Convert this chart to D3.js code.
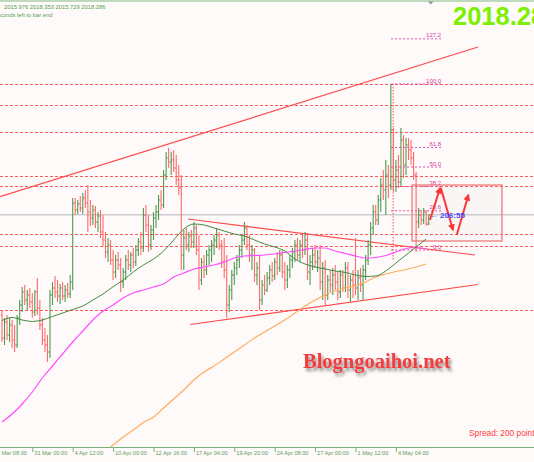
<!DOCTYPE html>
<html><head><meta charset="utf-8">
<script src="https://cdn.jsdelivr.net/npm/d3@7"></script>
<style>html,body{margin:0;padding:0;background:#fffafa;overflow:hidden}svg{display:block}</style>
</head><body><svg id="c" width="534" height="462"></svg>
<script>
// ---- data (prices) ----
const barOpen = [1993.25,1987.5,1991.5,1988.25,1990.75,1987,1985.75,1992.5,1995.75,1999,
1997,1998.25,1996.5,1994,1999,1995,1990.75,1987,1985.75,1984,
1998.25,2000,1999,1998,2000,1998,1999.5,1998.5,2001.5,2021.25,
2019.5,2021,2020,2022.5,2021.25,2019,2017.5,2019.5,2016.5,2018,
2014,2012,2009,2010.75,2007,2004,2007,2005.75,2001.5,2004,
2007,2005.75,2008.25,2006.5,2009.5,2011.5,2010,2018.25,2015.75,2010.75,
2014.5,2017.5,2019,2022,2020.75,2028.25,2032.5,2031.5,2032,2030,
2027,2025,2008.25,2012.5,2010.75,2013,2011.5,2015,2009.5,2002,
2006.5,2004.5,2008.25,2009.5,2010.75,2012,2013.25,2010.75,2006.5,2004.5,
1995.75,1999.5,2003.25,2005,2007,2009.5,2012,2015,2010.75,2008.25,
2009.5,2003.25,2005,1997,2000.75,1999.5,2002.5,2004.5,2003,2006.5,
2005,2008.25,2004,2002,2004.5,2007,2009,2010.75,2008.25,2010.75,
2009.5,2012,2004,2006.5,2008.25,2006.5,2007.5,2001.5,2005,1998.25,
2002,2000.75,2003.25,2001.5,1999,2003.25,2000,2005,1999.5,2002,
2000.75,2000,2002.5,2000.75,2004.5,2007,2010.75,2015,2019,2017,
2022,2025.75,2024.5,2028.25,2025.75,2039.5,2027,2029.5,2026.5,2037,
2030.75,2035.75,2034.5,2032.5,2028.25,2016.5,2018.25,2017,2019,2015.976];
const barHigh = [1994.5,1992.5,1993.25,1992.5,1992,1990.75,1993.25,1997,2000.25,2000.75,
1999.5,2000,1998.75,1999.5,2002.5,1997,1992.5,1990,1988.25,1999.5,
2001.5,2003,2002,2001,2001.5,2000.75,2001.25,2003.25,2022.5,2022.5,
2022,2023,2023.75,2024.5,2025.75,2022,2020.75,2020.5,2019,2019.5,
2018.25,2014,2012.5,2012,2009.5,2008.25,2009,2007.5,2005,2008.25,
2009.5,2009,2010,2010.75,2012.5,2014,2020,2020.75,2018.25,2015.75,
2019,2020.75,2023.25,2024.5,2029.5,2034,2035,2034,2034.5,2033.25,
2030.75,2028.25,2014.5,2015,2014,2014.5,2016.5,2015.75,2013.25,2007.5,
2008.25,2009.5,2010.75,2012,2013.25,2015,2014,2012,2012.5,2008.25,
2000.75,2004.5,2006.5,2008.25,2010.75,2013.25,2016.5,2015.75,2013.25,2010.75,
2010,2006.5,2008.25,2002,2003.25,2004,2005.75,2006.5,2007.5,2009,
2009.5,2009.5,2006.5,2005.75,2008.25,2010,2012,2012.5,2012,2013.25,
2014,2013.75,2008.25,2010,2010.75,2009.5,2010.75,2006.5,2007,2003.25,
2004.5,2005,2005.75,2004,2004.5,2004.5,2006.5,2006.5,2003.25,2004.5,
2012.5,2004.5,2005,2005.75,2008.25,2012,2016.5,2020.75,2020.75,2023.25,
2027.5,2029.5,2032,2030.75,2051,2040,2032,2033.25,2040,2038.25,
2037.5,2037.5,2037,2034,2029,2020,2019.5,2020,2019.5,2018.353];
const barLow = [1986.5,1985.75,1987,1986.5,1985,1984,1985,1990.75,1994,1995.75,
1994.5,1995,1992.5,1993,1993.25,1989.5,1985.75,1984,1981.5,1982.5,
1995.75,1997.5,1996.5,1996,1997,1996.5,1997.5,1997.5,1999.5,2018.25,
2018.5,2019,2018.5,2020,2014,2015.5,2015.75,2015,2014,2012.5,
2010.5,2007.5,2006.5,2005.75,2002,2002.5,2004.5,1999,2000,2002,
2004.5,2004,2005,2005.5,2008,2008.25,2009,2014,2009,2009.5,
2012,2015,2017,2019.5,2020,2027,2030,2028.25,2029,2025.75,
2023.25,2004.5,2004.5,2009.5,2009,2010,2010,2008.25,1999.5,2000.75,
2002.5,2003.25,2005.75,2006.5,2008.25,2010,2009.5,2005,2002.5,1992.5,
1994,1997,2000.75,2003.25,2005,2007.5,2010.75,2009.5,2006.5,2004.5,
2001.5,2000.75,1994.5,1995.75,1998.25,1999,2000.75,2001.5,2002,2003.25,
2004,2002.5,1999.5,2000,2002.5,2005,2006.5,2007,2006.5,2007.5,
2008.25,2002,2000.75,2004.5,2005,2004,1999.5,1997,1995.75,1997,
1999,1998.25,1999.5,1997,1997.5,1999,1999,1997.5,1996.5,1997.5,
1998.25,1997,1999,1997,2002,2005.75,2008.25,2013.25,2015.75,2015.75,
2019,2022,2018.25,2022.5,2024.5,2024,2024,2025,2025.5,2027.5,
2028.25,2032,2030.75,2027,2009,2015,2015.75,2016,2015.5,2015.729];
const barClose = [1987.5,1991.5,1988.25,1990.75,1987,1985.75,1992.5,1995.75,1999,1997,
1998.25,1996.5,1994,1999,1995,1990.75,1987,1985.75,1984,1998.25,
2000,1999,1998,2000,1998,1999.5,1998.5,2001.5,2021.25,2019.5,
2021,2020,2022.5,2021.25,2019,2017.5,2019.5,2016.5,2018,2014,
2012,2009,2010.75,2007,2004,2007,2005.75,2001.5,2004,2007,
2005.75,2008.25,2006.5,2009.5,2011.5,2010,2018.25,2015.75,2010.75,2014.5,
2017.5,2019,2022,2020.75,2028.25,2032.5,2031.5,2032,2030,2027,
2025,2008.25,2012.5,2010.75,2013,2011.5,2015,2009.5,2002,2006.5,
2004.5,2008.25,2009.5,2010.75,2012,2013.25,2010.75,2006.5,2004.5,1995.75,
1999.5,2003.25,2005,2007,2009.5,2012,2015,2010.75,2008.25,2009.5,
2003.25,2005,1997,2000.75,1999.5,2002.5,2004.5,2003,2006.5,2005,
2008.25,2004,2002,2004.5,2007,2009,2010.75,2008.25,2010.75,2009.5,
2012,2004,2006.5,2008.25,2006.5,2007.5,2001.5,2005,1998.25,2002,
2000.75,2003.25,2001.5,1999,2003.25,2000,2005,1999.5,2002,2000.75,
2000,2002.5,2000.75,2004.5,2007,2010.75,2015,2019,2017,2022,
2025.75,2024.5,2028.25,2025.75,2039.5,2027,2029.5,2026.5,2037,2030.75,
2035.75,2034.5,2032.5,2028.25,2016.5,2018.25,2017,2019,2016,2018.286];

const maIdx = [0,4,8,12,16,20,24,28,32,36,40,44,48,52,56,60,64,68,72,76,80,84,88,92,96,100,104,108,112,116,120,124,128,132,136,140,144,148,152,156,160,164,168];
const maGreen = [1991.88,1992.63,1992,1991.63,1992,1992.88,1993.75,1994.63,1995.5,1997,1998.5,2000.33,2002,2004,2005.75,2007.25,2009.25,2012,2014.75,2016,2015.75,2015,2014.25,2013.5,2013,2012,2011,2010.25,2009.25,2007.25,2006,2005.25,2004.75,2004.25,2003.88,2003.25,2002.88,2003,2004.25,2006.25,2008.25,2010.25,2012.25];
const maMagenta = [1966.5,1968.5,1971,1974,1977.5,1980.5,1983.5,1986.5,1989.25,1992,1994.25,1995.75,1997.5,1998.75,1999.5,2000.25,2001,2002.75,2003.75,2004.75,2005.25,2005.75,2006.5,2007.5,2008,2008.13,2008.25,2008.5,2008.88,2009.25,2009.63,2010,2010,2009.25,2008.63,2008,2007.5,2007.63,2008.13,2009,2009.88,2010.13,2009.75];
const orangeIdx = [43,48,52,56,60,64,68,72,76,80,84,88,92,96,100,104,108,112,116,120,124,128,132,136,140,144,148,152,156,160,164,168];
const maOrange = [1960.25,1962.75,1964.5,1966.38,1967.75,1970,1972.25,1974.5,1977,1979,1980.5,1982.25,1984,1985.75,1987.5,1989,1990.5,1992,1993.75,1995.5,1997,1998.25,1999.25,2000,2000.63,2001.5,2002.75,2003.5,2004.13,2004.63,2005.25,2006];

const levelPrices = [2051,2045.75,2039,2028,2025.5,2013.5,2010.5,1994.5];
const fibLevels = [0,23.6,38.2,50,61.8,100,127.2];
const fibLowHigh = [2009.5,2051];
const fibSpan = [154.1,173.9];
const trendLines = [ // [i1,p1,i2,p2]
  [-0.8,2022.83,188.5,2060.25],
  [73.7,2017.25,187.3,2008.25],
  [74.5,1990.88,188.5,2000.88]
];
const boxSpan = [162.4,198,2011.75,2025.75];
const arrows = [[169.5,2017,173.5,2025],[173.8,2025,178.6,2014.5],[180.1,2013.25,184.7,2023.25]];
const fibDiag = [154.9,2051,154.9,2007];
const tickIdx = [-4,12,28,44,60,76,92,108,124,140,156];
const tickLabels = ["28 Mar 08:00","31 Mar 00:00","4 Apr 12:00","10 Apr 00:00","12 Apr 16:00","17 Apr 04:00","19 Apr 20:00","24 Apr 08:00","27 Apr 00:00","1 May 12:00","4 May 04:00"];

// ---- drawing ----
const W=534,H=462,plotTop=2,plotBot=447;
const svg=d3.select('#c');
const x=d3.scaleLinear().domain([0,169]).range([2,2+169*2.525]);
const y=d3.scaleLinear().domain([1960.25,2071.5]).range([plotBot,plotTop]);
const FONT="'Liberation Sans',Arial,sans-serif";

const defs=svg.append('defs');
defs.append('clipPath').attr('id','clip').append('rect').attr('x',0).attr('y',plotTop).attr('width',W).attr('height',plotBot-plotTop);
defs.append('marker').attr('id','ah').attr('viewBox','0 0 10 10').attr('refX',8).attr('refY',5)
  .attr('markerWidth',7).attr('markerHeight',7).attr('markerUnits','userSpaceOnUse').attr('orient','auto')
  .append('path').attr('d','M0,0L10,5L0,10z').attr('fill','#ff3535');
const f=defs.append('filter').attr('id','sh').attr('x','-10%').attr('y','-30%').attr('width','130%').attr('height','180%');
f.append('feGaussianBlur').attr('in','SourceAlpha').attr('stdDeviation',1.4).attr('result','b');
f.append('feOffset').attr('in','b').attr('dx',2).attr('dy',2.5).attr('result','o');
f.append('feComponentTransfer').attr('in','o').attr('result','o2').append('feFuncA').attr('type','linear').attr('slope',0.45);
const fm=f.append('feMerge'); fm.append('feMergeNode').attr('in','o2'); fm.append('feMergeNode').attr('in','SourceGraphic');

svg.append('rect').attr('width',W).attr('height',H).attr('fill','#fffafa');
const g=svg.append('g').attr('clip-path','url(#clip)');

// horizontal dashed levels
g.selectAll('.lvl').data(levelPrices).join('line')
  .attr('x1',0).attr('x2',W).attr('y1',d=>y(d)+0.5).attr('y2',d=>y(d)+0.5)
  .attr('stroke','#ff5a5a').attr('stroke-width',1).attr('stroke-dasharray','3,2');

// bid line
const last=barClose[barClose.length-1];
g.append('line').attr('x1',0).attr('x2',W).attr('y1',y(last)).attr('y2',y(last)).attr('stroke','#b4b4bc').attr('stroke-width',1);

// fib levels
const fibP=l=>fibLowHigh[0]+(fibLowHigh[1]-fibLowHigh[0])*l/100;
g.selectAll('.fib').data(fibLevels).join('line')
  .attr('x1',x(fibSpan[0])).attr('x2',x(fibSpan[1])).attr('y1',d=>y(fibP(d))).attr('y2',d=>y(fibP(d)))
  .attr('stroke','#dc4bb0').attr('stroke-width',1).attr('stroke-dasharray','2,2');
g.selectAll('.fibt').data(fibLevels).join('text')
  .attr('x',x(fibSpan[1])).attr('y',d=>y(fibP(d))-1.5).attr('text-anchor','end')
  .attr('font-family',FONT).attr('font-size',6).attr('fill','#d23c9c').text(d=>d.toFixed(1));
g.append('line').attr('x1',x(fibDiag[0])).attr('y1',y(fibDiag[1])).attr('x2',x(fibDiag[2])).attr('y2',y(fibDiag[3]))
  .attr('stroke','#ff5050').attr('stroke-width',1).attr('stroke-dasharray','1.5,1.5');

// box
g.append('rect').attr('x',x(boxSpan[0])).attr('y',y(boxSpan[3])).attr('width',x(boxSpan[1])-x(boxSpan[0])).attr('height',y(boxSpan[2])-y(boxSpan[3]))
  .attr('fill','rgba(200,200,200,0.08)').attr('stroke','#f07a7a').attr('stroke-width',1.3);

// trend lines
g.selectAll('.tl').data(trendLines).join('line')
  .attr('x1',d=>x(d[0])).attr('y1',d=>y(d[1])).attr('x2',d=>x(d[2])).attr('y2',d=>y(d[3]))
  .attr('stroke','#ff4a4a').attr('stroke-width',1.2);

// bars
const bars=d3.range(barOpen.length).map(i=>({i,o:barOpen[i],h:barHigh[i],l:barLow[i],c:barClose[i]}));
g.selectAll('.bar').data(bars).join('path')
  .attr('d',d=>{const xx=x(d.i);return `M${xx},${y(d.h)}V${y(d.l)}M${xx-1.3},${y(d.o)}H${xx}M${xx},${y(d.c)}H${xx+1.3}`;})
  .attr('fill','none').attr('stroke',d=>d.c>=d.o?'#4f9a4f':'#ff6a6a').attr('stroke-width',1.1);

// moving averages
const line=d3.line().curve(d3.curveMonotoneX);
g.append('path').attr('d',line(orangeIdx.map((d,k)=>[x(d),y(maOrange[k])]))).attr('fill','none').attr('stroke','#ffac5c').attr('stroke-width',1.2);
g.append('path').attr('d',line(maIdx.map((d,k)=>[x(d),y(maMagenta[k])]))).attr('fill','none').attr('stroke','#ff4cff').attr('stroke-width',1.2);
g.append('path').attr('d',line(maIdx.map((d,k)=>[x(d),y(maGreen[k])]))).attr('fill','none').attr('stroke','#3f8a3f').attr('stroke-width',1);

// projection arrows
g.selectAll('.ar').data(arrows).join('line')
  .attr('x1',d=>x(d[0])).attr('y1',d=>y(d[1])).attr('x2',d=>x(d[2])).attr('y2',d=>y(d[3]))
  .attr('stroke','#ff3535').attr('stroke-width',2).attr('marker-end','url(#ah)');

// timer text
g.append('text').attr('x',x(169)+1).attr('y',y(last)+3.5).attr('font-family',FONT).attr('font-size',8).attr('font-weight','bold')
  .attr('fill','#4646ff').text('\u2190 206:55');

// top border + shift marker
svg.append('line').attr('x1',0).attr('x2',W).attr('y1',1).attr('y2',1).attr('stroke','#7fb87f').attr('stroke-width',1.2);
svg.append('path').attr('d','M428,1.5L433.5,1.5L430.75,4.5Z').attr('fill','#8a9a9a');

// header texts
svg.append('text').attr('x',4).attr('y',8.5).attr('font-family',FONT).attr('font-size',5.8).attr('fill','#55a055').text('2015.976 2018.353 2015.729 2018.286');
svg.append('text').attr('x',0).attr('y',16.5).attr('font-family',FONT).attr('font-size',5.8).attr('fill','#55a055').text('conds left to bar end');
svg.append('text').attr('x',453).attr('y',25).attr('font-family',FONT).attr('font-size',25.5).attr('font-weight','bold').attr('fill','#7cf000').text('2018.28');

// watermark
svg.append('text').attr('x',303).attr('y',368).attr('font-family',"'Liberation Serif','Times New Roman',serif").attr('font-size',20.5).attr('font-weight','bold')
  .attr('fill','#f03c3c').attr('filter','url(#sh)').text('Blogngoaihoi.net');
svg.append('text').attr('x',469).attr('y',435.5).attr('font-family',FONT).attr('font-size',8.3).attr('fill','#ff3a3a').text('Spread: 200 points');

// x axis
const ax=svg.append('g').attr('transform',`translate(0,${plotBot})`)
  .call(d3.axisBottom(x).tickValues(tickIdx).tickFormat((d,k)=>tickLabels[k]).tickSize(5).tickSizeOuter(0));
ax.select('.domain').remove();
ax.selectAll('.tick line').attr('stroke','#7ab27a');
ax.selectAll('.tick text').attr('text-anchor','start').attr('x',1.5).attr('y',3.8).attr('dy','0.71em')
  .attr('font-family',FONT).attr('font-size',5.6).attr('fill','#5e9a5e');
svg.append('line').attr('x1',0).attr('x2',W).attr('y1',plotBot+0.5).attr('y2',plotBot+0.5).attr('stroke','#7ab27a').attr('stroke-width',1);
</script></body></html>
